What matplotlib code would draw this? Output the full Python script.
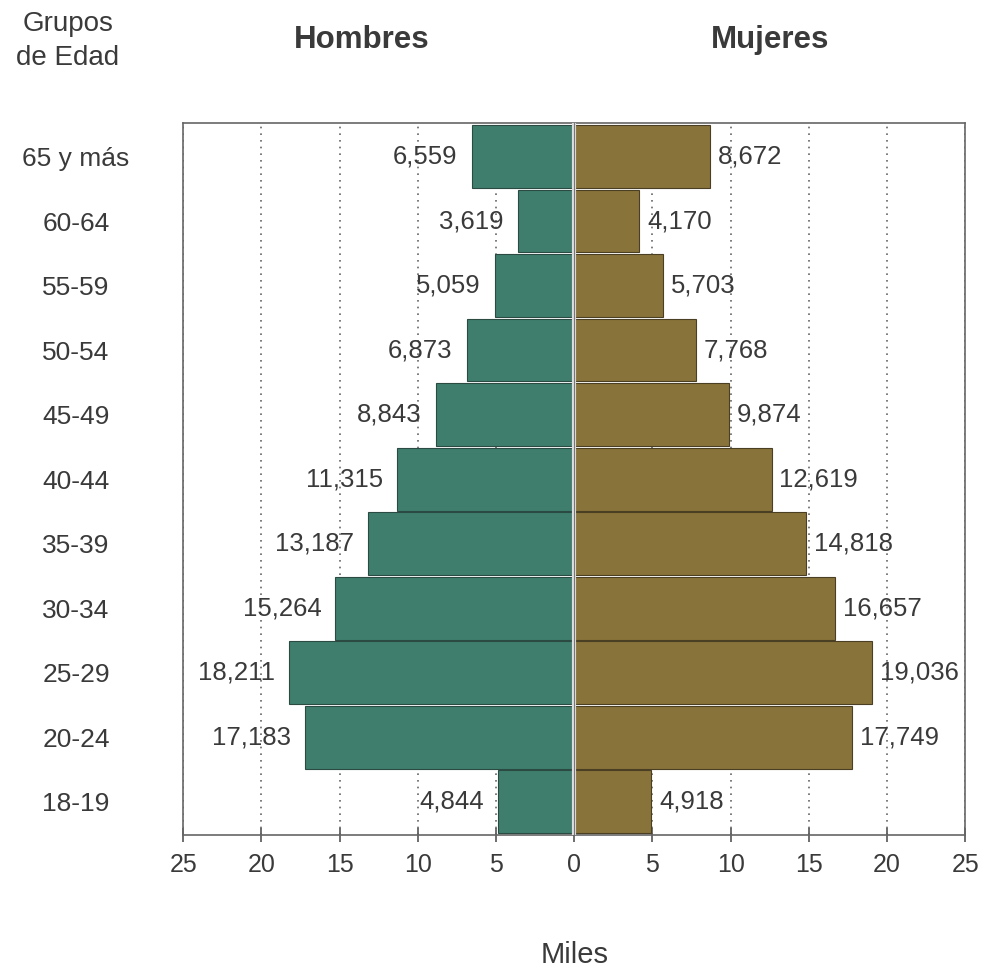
import matplotlib
matplotlib.use("Agg")
import matplotlib.pyplot as plt
import numpy as np

plt.rcParams['font.family'] = ['Liberation Sans', 'DejaVu Sans']

groups = ["18-19", "20-24", "25-29", "30-34", "35-39", "40-44",
          "45-49", "50-54", "55-59", "60-64", "65 y más"]
hombres = [4.844, 17.183, 18.211, 15.264, 13.187, 11.315,
           8.843, 6.873, 5.059, 3.619, 6.559]
mujeres = [4.918, 17.749, 19.036, 16.657, 14.818, 12.619,
           9.874, 7.768, 5.703, 4.170, 8.672]
xticks = [-25, -20, -15, -10, -5, 0, 5, 10, 15, 20, 25]
xticklabels = ["25", "20", "15", "10", "5", "0", "5", "10", "15", "20", "25"]

green = "#3f7e6d"
brown = "#88733a"
txt = "#3a3a3a"

fig = plt.figure(figsize=(9.9, 9.77), dpi=100)
fig.patch.set_facecolor("white")
ax = fig.add_axes([0.185, 0.145, 0.79, 0.729])

y = np.arange(len(groups))
ax.barh(y, [-v for v in hombres], height=0.97, color=green,
        edgecolor="#2a4a42", linewidth=0.8, zorder=3)
ax.barh(y, mujeres, height=0.97, color=brown,
        edgecolor="#4a3f22", linewidth=0.8, zorder=3)
ax.axvline(0, color="#dddddd", linewidth=3, zorder=4)
ax.axvline(0, color="#777777", linewidth=0.8, zorder=5)

for yi, v in zip(y, hombres):
    ax.text(-v - 0.9, yi, f"{v:,.3f}".replace(".", ","), ha="right", va="center",
            fontsize=18.5, color=txt, zorder=6)
for yi, v in zip(y, mujeres):
    ax.text(v + 0.5, yi, f"{v:,.3f}".replace(".", ","), ha="left", va="center",
            fontsize=18.5, color=txt, zorder=6)

ax.set_xlim(-25, 25)
ax.set_ylim(-0.52, len(groups) - 0.48)
ax.set_xticks(xticks)
ax.set_xticklabels(xticklabels, fontsize=18, color=txt)
ax.tick_params(axis="x", direction="inout", length=10, width=1.2,
               color="#555555", pad=8)
ax.set_yticks(y)
ax.set_yticklabels(groups, fontsize=19, color=txt)
ax.tick_params(axis="y", length=0, pad=0)
for lab in ax.get_yticklabels():
    lab.set_horizontalalignment("center")
    lab.set_x(-0.137)

ax.grid(axis="x", linestyle=(0, (1, 3)), color="#666666", linewidth=1.2, zorder=1)
ax.set_axisbelow(True)
for s in ax.spines.values():
    s.set_color("#666666")
    s.set_linewidth(1.2)

ax.set_xlabel("Miles", fontsize=21, color=txt, labelpad=46)

fig.text(362 / 990, 1 - 40 / 977, "Hombres", ha="center", va="center",
         fontsize=22.5, fontweight="bold", color=txt)
fig.text(770 / 990, 1 - 40 / 977, "Mujeres", ha="center", va="center",
         fontsize=22.5, fontweight="bold", color=txt)
fig.text(68 / 990, 1 - 41 / 977, "Grupos\nde Edad", ha="center", va="center",
         fontsize=20, color=txt, linespacing=1.4)

fig.savefig("out.png", dpi=100, facecolor="white")
